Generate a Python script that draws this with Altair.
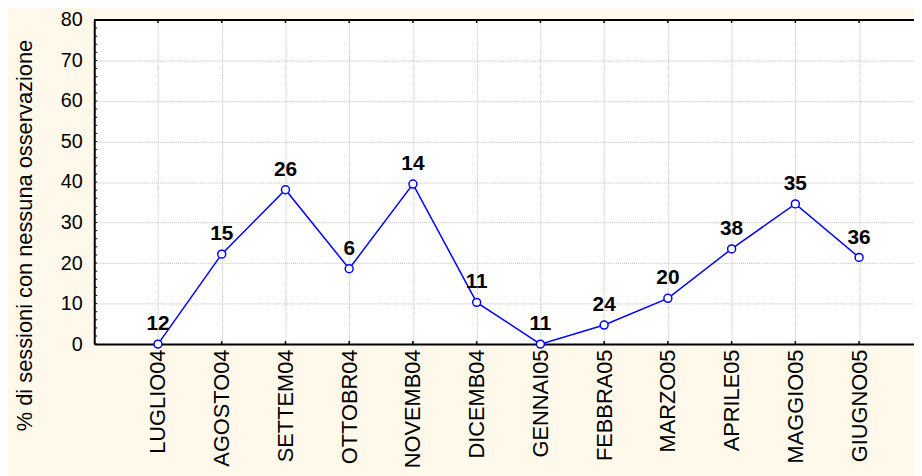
import json
import altair as alt
import pandas as pd

# ---- data ----
months = ["LUGLIO04", "AGOSTO04", "SETTEM04", "OTTOBR04", "NOVEMB04", "DICEMB04",
          "GENNAI05", "FEBBRA05", "MARZO05", "APRILE05", "MAGGIO05", "GIUGNO05"]
pct_no_obs = [0.0, 22.2, 38.1, 18.6, 39.5, 10.3, 0.0, 4.7, 11.3, 23.5, 34.6, 21.4]
n_sessions = [12, 15, 26, 6, 14, 11, 11, 24, 20, 38, 35, 36]
y_ticks = [0, 10, 20, 30, 40, 50, 60, 70, 80]
y_minor = list(range(0, 81, 2))

df = pd.DataFrame({"idx": list(range(len(months))), "month": months,
                   "pct": pct_no_obs, "n": n_sessions})
minor_df = pd.DataFrame({"v": y_minor})

W, H = 827, 327
FONT = "Liberation Sans, Arial, sans-serif"
BLUE = "#0000FF"

xscale = alt.Scale(domain=[-1, -1 + W / 64.3], nice=False, zero=False)
yscale = alt.Scale(domain=[0, 80], nice=False)

label_expr = json.dumps(months) + "[datum.value]"

base = alt.Chart(df)

line = base.mark_line(color=BLUE, strokeWidth=1.5).encode(
    x=alt.X("idx:Q", scale=xscale,
            axis=alt.Axis(values=list(range(len(months))), labelExpr=label_expr,
                          labelAngle=-90, labelFontSize=22, labelFont=FONT,
                          labelColor="black", ticks=False, labelPadding=5,
                          domainColor="black", domainWidth=2,
                          grid=True, gridColor="#BDBDBD", gridDash=[1, 1], gridWidth=1,
                          title=None, labelOverlap=False, labelFlush=False)),
    y=alt.Y("pct:Q", scale=yscale,
            axis=alt.Axis(values=y_ticks, labelFontSize=20, labelFont=FONT,
                          labelColor="black", ticks=False, labelPadding=12,
                          domainColor="black", domainWidth=2,
                          grid=True, gridColor="#BDBDBD", gridDash=[1, 1], gridWidth=1,
                          title="% di sessioni con nessuna osservazione",
                          titleFont=FONT, titleFontSize=22, titleFontWeight="normal",
                          titleColor="black", titleX=-70, titleY=217,
                          titleAlign="center", titleBaseline="middle",
                          labelFlush=False)),
)

points = base.mark_point(shape="circle", filled=True, fill="white", stroke=BLUE,
                         strokeWidth=1.5, size=64, opacity=1).encode(
    x=alt.X("idx:Q", scale=xscale), y=alt.Y("pct:Q", scale=yscale))

labels = base.mark_text(font=FONT, fontSize=21, fontWeight="bold", color="black",
                        baseline="alphabetic", dy=-14).encode(
    x=alt.X("idx:Q", scale=xscale), y=alt.Y("pct:Q", scale=yscale),
    text="n:N")

top_border = alt.Chart(df).mark_rule(color="black", strokeWidth=2).encode(
    x=alt.value(0), x2=alt.value(W), y=alt.value(0))

bottom_ticks = base.mark_rule(color="black", strokeWidth=1.5).encode(
    x=alt.X("idx:Q", scale=xscale), y=alt.value(H - 3), y2=alt.value(H))

top_ticks = base.mark_rule(color="black", strokeWidth=1.5).encode(
    x=alt.X("idx:Q", scale=xscale), y=alt.value(0), y2=alt.value(3))

left_minor = alt.Chart(minor_df).mark_rule(color="black", strokeWidth=1).encode(
    y=alt.Y("v:Q", scale=yscale), x=alt.value(0), x2=alt.value(3))

chart = alt.layer(line, bottom_ticks, top_ticks, left_minor, top_border, points, labels).properties(
    width=W, height=H,
    background="#FFF9EC",
    autosize=alt.AutoSizeParams(type="none"),
    padding={"left": 87, "top": 10, "right": 0, "bottom": 468 - 10 - H},
).configure_view(fill="white", stroke=None)

chart.save("out.html", embed_options={"renderer": "svg", "actions": False})
